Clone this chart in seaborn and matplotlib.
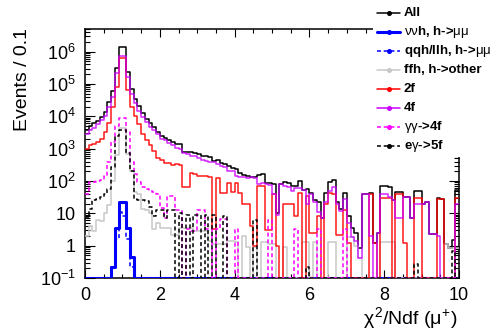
import numpy as np
import pandas as pd
import matplotlib
matplotlib.use("Agg")
import matplotlib.pyplot as plt
from matplotlib.lines import Line2D
from matplotlib.patches import Rectangle
from matplotlib.ticker import MultipleLocator, LogLocator, NullFormatter
import seaborn as sns

# chi2/Ndf binning: 100 bins of width 0.1 from 0 to 10
BIN_WIDTH = 0.1
X_RANGE = (0.0, 10.0)
bin_centers = np.arange(100) * BIN_WIDTH + BIN_WIDTH / 2

all_events = [
    3850, 5170, 6020, 7330, 9750, 13900, 26800, 62000, 312000, 1360000,
    1360000, 228000, 70800, 35200, 20800, 12400, 8500, 6040, 4610, 3360,
    2490, 2180, 1910, 1630, 1415, 1350, 787, 769, 787, 750,
    665, 606, 575, 534, 413, 460, 352, 340, 286, 246,
    229, 172, 157, 141, 134, 133, 150, 159, 84, 85,
    81, 10, 83, 91, 86, 68, 71, 102, 53, 56,
    42.5, 26, 22, 7, 42, 93, 104, 22, 14, 44,
    8.1, 3.6, 2.4, 0.86, 40, 40, 42, 1.2, 2.5, 71,
    71, 63, 26, 47, 47, 33, 32, 7, 50, 50,
    20, 22, 2.3, 2.3, 30, 28, 1.1, 0.85, 1.55, 51,
]

nunuh_mumu = [
    0, 0, 0, 0, 0, 0, 0, 0.22, 3.4, 23,
    23, 3.4, 0.45, 0, 0, 0, 0, 0, 0, 0,
    0, 0, 0, 0, 0, 0, 0, 0, 0, 0,
    0, 0, 0, 0, 0, 0, 0, 0, 0, 0,
    0, 0, 0, 0, 0, 0, 0, 0, 0, 0,
    0, 0, 0, 0, 0, 0, 0, 0, 0, 0,
    0, 0, 0, 0, 0, 0, 0, 0, 0, 0,
    0, 0, 0, 0, 0, 0, 0, 0, 0, 0,
    0, 0, 0, 0, 0, 0, 0, 0, 0, 0,
    0, 0, 0, 0, 0, 0, 0, 0, 0, 0,
]

qqh_llh_mumu = [
    0, 0, 0, 0, 0, 0, 0, 0.22, 1.6, 11,
    8, 1.6, 0.22, 0, 0, 0, 0, 0, 0, 0,
    0, 0, 0, 0, 0, 0, 0, 0, 0, 0,
    0, 0, 0, 0, 0, 0, 0, 0, 0, 0,
    0, 0, 0, 0, 0, 0, 0, 0, 0, 0,
    0, 0, 0, 0, 0, 0, 0, 0, 0, 0,
    0, 0, 0, 0, 0, 0, 0, 0, 0, 0,
    0, 0, 0, 0, 0, 0, 0, 0, 0, 0,
    0, 0, 0, 0, 0, 0, 0, 0, 0, 0,
    0, 0, 0, 0, 0, 0, 0, 0, 0, 0,
]

ffh_other = [
    2, 4, 2.8, 6.3, 5.6, 10, 18, 100, 630, 4500,
    4500, 700, 200, 46, 40, 14, 12.6, 10, 3.2, 5,
    3.5, 3.5, 3.5, 2.2, 2.2, 3.5, 3.5, 3.5, 3.5, 2.8,
    2.8, 2.8, 2.8, 1.35, 1.1, 1.1, 1.1, 1.1, 1.35, 1.35,
    1.26, 0, 2, 0.9, 0, 0.9, 0, 1.26, 1.26, 1.1,
    1.1, 0, 0, 0.9, 0, 0, 0, 0, 1.26, 1.26,
    0, 1.26, 0, 0, 0, 1.26, 1.26, 0, 0, 0,
    1.8, 1.8, 1.0, 0.43, 0, 0, 0, 0, 0, 1.26,
    1.26, 1.26, 1.26, 0, 0, 0, 0, 0, 0, 0,
    0, 0, 0, 0, 0, 0, 1.1, 0.85, 0.85, 0.85,
]

two_f = [
    1000, 1260, 1400, 1600, 2000, 3200, 6300, 20000, 80000, 630000,
    630000, 63000, 20000, 10000, 5600, 2800, 1800, 1260, 850, 500,
    460, 360, 360, 320, 330, 320, 63, 63, 180, 160,
    140, 140, 140, 130, 3.2, 126, 44, 44, 85, 45,
    85, 42, 20, 20, 4, 1, 70, 70, 3, 3,
    40, 1, 0, 20, 20, 20, 8, 42, 0, 35,
    2.5, 2.5, 8, 0, 20, 42, 40, 2.2, 2.2, 13,
    1.2, 0, 0, 0, 0, 0, 40, 1.2, 0, 30,
    30, 30, 0, 40, 40, 1.2, 0, 0, 30, 30,
    0, 0, 0, 0, 28, 28, 0, 0, 0, 30,
]

four_f = [
    2800, 3800, 4500, 5600, 7600, 10500, 20000, 40000, 224000, 710000,
    710000, 160000, 50000, 25000, 15000, 9500, 6600, 4700, 3700, 2800,
    2000, 1800, 1500, 1260, 1070, 1000, 720, 690, 600, 575,
    500, 450, 420, 400, 400, 330, 300, 280, 200, 200,
    140, 130, 135, 120, 130, 125, 80, 88, 80, 75,
    40, 9, 83, 70, 66, 48, 60, 60, 52, 20,
    40, 22, 11, 7, 22, 50, 63, 20, 12, 28,
    5.1, 1.8, 1.4, 0.43, 40, 40, 2, 0, 2.5, 40,
    40, 32, 25, 7, 7, 32, 32, 7, 20, 20,
    20, 22, 2.3, 2.3, 2, 0, 0, 0, 0, 20,
]

gg_4f = [
    40, 90, 95, 100, 110, 140, 400, 1600, 5000, 9000,
    9000, 3200, 400, 160, 90, 63, 56, 52, 45, 40,
    15, 7, 34, 34, 13, 13, 0, 3.2, 2.8, 2.8,
    13, 13, 3.2, 3.2, 0, 3.2, 6.5, 6.5, 0, 0,
    3.2, 0, 0, 0, 0, 0, 0, 0, 0, 6.3,
    0, 0, 0, 0, 0, 0, 3.2, 0, 0, 0,
    0, 0, 3.2, 0, 0, 0, 0, 0, 0, 3.2,
    0, 0, 0, 0, 0, 0, 0, 0, 0, 0,
    0, 0, 0, 0, 0, 0, 0, 0, 0, 0,
    0, 0, 0, 0, 0, 0, 0, 0, 0, 0,
]

eg_5f = [
    7, 14, 25, 28, 32, 40, 56, 275, 2500, 3800,
    3800, 740, 200, 28, 26, 25, 24, 16, 8, 12.6,
    12.6, 7, 12.6, 12.6, 0, 10, 0, 9, 0, 9,
    9, 0, 9, 0, 9, 0, 0, 8, 0, 0,
    0, 0, 0, 0, 0, 6.3, 0, 0, 0, 0,
    0, 0, 0, 0, 0, 0, 0, 0, 0, 0.22,
    0, 0, 0, 0, 0, 0, 0, 0, 0, 0,
    0, 0, 0, 0, 0, 0, 0, 0, 0, 0,
    0, 0, 0, 0, 0, 0, 0, 0, 0.28, 0,
    0, 0, 0, 0, 0, 0, 0, 0, 0.7, 0,
]

legend_labels = [
    "All",
    r"$\nu\nu$h, h->$\mu\mu$",
    r"qqh/llh, h->$\mu\mu$",
    "ffh, h->other",
    "2f",
    "4f",
    r"$\gamma\gamma$->4f",
    r"e$\gamma$->5f",
]

DASH = (0, (2.6, 1.8))
# (values, colour, linestyle, linewidth, alpha) in drawing order
styles = [
    (all_events, "black", "-", 1.1, 1.0),
    (nunuh_mumu, "#0000ff", "-", 2.2, 1.0),
    (qqh_llh_mumu, "#0000ff", DASH, 1.1, 1.0),
    (ffh_other, "#c8c8c8", "-", 1.1, 1.0),
    (two_f, "#ff0000", "-", 1.1, 0.9),
    (four_f, "#cc00ff", "-", 1.1, 0.85),
    (gg_4f, "#ff00ff", DASH, 1.1, 1.0),
    (eg_5f, "black", DASH, 1.1, 1.0),
]

YMIN, YMAX = 0.1, 5e6

sns.set_theme(style="ticks")
plt.rcParams.update({
    "font.family": ["Liberation Sans", "DejaVu Sans"],
    "mathtext.fontset": "custom",
    "mathtext.rm": "Liberation Sans",
    "mathtext.it": "Liberation Sans",
    "mathtext.bf": "Liberation Sans:bold",
    "axes.edgecolor": "black",
    "axes.linewidth": 1.1,
    "xtick.color": "black",
    "ytick.color": "black",
    "text.color": "black",
})

W, H = 497, 334
fig = plt.figure(figsize=(W / 100, H / 100), dpi=100)
fig.patch.set_facecolor("white")
ax = fig.add_axes([85 / W, 1 - 278 / H, (459 - 85) / W, (278 - 29) / H])
ax.set_yscale("log")

for vals, color, ls, lw, alpha in styles:
    # empty bins sit on the lower edge of the log axis
    df = pd.DataFrame({"chi2ndf": bin_centers,
                       "events": np.clip(np.asarray(vals, dtype=float), YMIN, None)})
    sns.histplot(data=df, x="chi2ndf", weights="events", binwidth=BIN_WIDTH,
                 binrange=X_RANGE, element="step", fill=False, color=color,
                 linestyle=ls, linewidth=lw, alpha=alpha, ax=ax, zorder=3)

ax.set_xlim(*X_RANGE)
ax.set_ylim(YMIN, YMAX)
ax.set_xlabel("")
ax.set_ylabel("")
ax.set_facecolor("white")

ax.xaxis.set_major_locator(MultipleLocator(2))
ax.xaxis.set_minor_locator(MultipleLocator(0.5))
decades = [1e-1, 1, 10, 1e2, 1e3, 1e4, 1e5, 1e6]
ax.set_yticks(decades, labels=[r"$10^{-1}$", "1", "10", r"$10^{2}$", r"$10^{3}$",
                               r"$10^{4}$", r"$10^{5}$", r"$10^{6}$"])
ax.yaxis.set_minor_locator(LogLocator(base=10, subs=np.arange(2, 10), numticks=30))
ax.yaxis.set_minor_formatter(NullFormatter())

ax.tick_params(axis="both", which="both", direction="in", top=True, right=True,
               labelsize=13, width=0.8)
ax.tick_params(axis="y", which="major", length=7.2, pad=6.5)
ax.tick_params(axis="y", which="minor", length=3.6)
ax.tick_params(axis="x", which="major", length=5.8, pad=6.5)
ax.tick_params(axis="x", which="minor", length=2.9)
for sp in ax.spines.values():
    sp.set_visible(True)
    sp.set_color("black")
    sp.set_linewidth(1.1)
ax.get_xticklabels()[-1].set_horizontalalignment("right")

fig.text(23 / W, 1 - 28 / H, "Events / 0.1", rotation=90, ha="center", va="top",
         fontsize=14)
fig.text(458 / W, 1 - 318 / H, r"$\chi^{2}$/Ndf ($\mu^{+}$)", ha="right",
         va="center", fontsize=14)

# legend block in the top-right corner
fig.add_artist(Rectangle((373 / W, 1 - 157 / H), (W - 373) / W, 157 / H,
                         transform=fig.transFigure, facecolor="white",
                         edgecolor="none", zorder=5))
for i, (label, (vals, color, ls, lw, alpha)) in enumerate(zip(legend_labels, styles)):
    yy = 1 - (13 + 19 * i) / H
    fig.add_artist(Line2D([377 / W, 400 / W], [yy, yy], transform=fig.transFigure,
                          color=color, linestyle=ls, linewidth=lw, zorder=6))
    fig.add_artist(Line2D([388.5 / W], [yy], transform=fig.transFigure, marker="o",
                          markersize=2.6, color=color, linestyle="none", zorder=6))
    fig.text(404 / W, yy, label, fontsize=9.5, fontweight="bold", ha="left",
             va="center", zorder=6)

fig.savefig("out.png", dpi=100, facecolor="white")
